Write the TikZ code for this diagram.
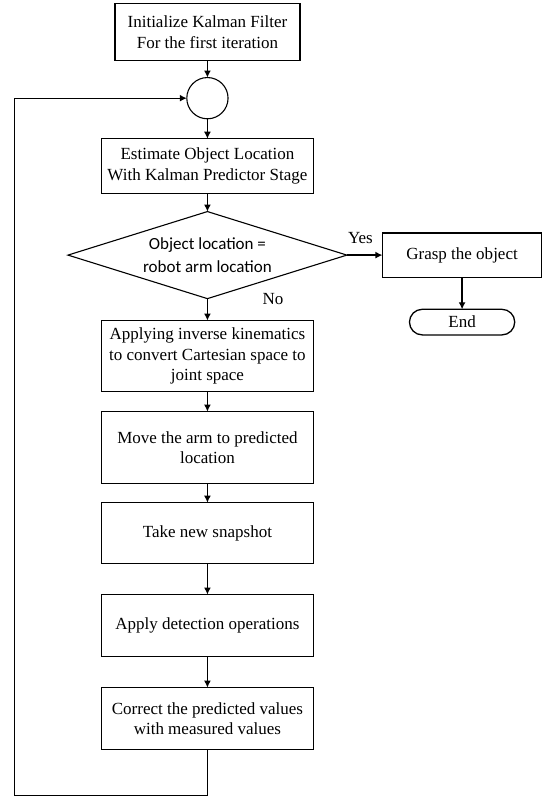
\documentclass[tikz,border=0pt]{standalone}
\usepackage{fontspec}
\setmainfont{Liberation Serif}
\newfontfamily\decfont{Carlito}
\usepackage{xcolor}
\usetikzlibrary{arrows.meta,positioning,shapes.geometric}

\begin{document}
\begin{tikzpicture}[
          font=\fontsize{17}{20.5}\selectfont,
          line/.style={-{Latex[length=7pt,width=7pt]}, line width=1.3pt},
          stepbox/.style={draw, line width=1.3pt, minimum width=74.5mm, align=center, inner sep=1pt, outer sep=0pt},
          junction/.style={circle, draw, line width=1.1pt, minimum size=14.5mm, outer sep=0pt},
          decision/.style={diamond, draw, line width=1.1pt, aspect=3.2, minimum width=98mm, minimum height=30.6mm, inner sep=0pt, outer sep=0pt, align=center, font=\decfont\fontsize{17}{23}\selectfont},
          terminal/.style={draw, rounded corners=4.5mm, line width=1.3pt, minimum width=37mm, minimum height=9mm, outer sep=0pt},
          tag/.style={inner sep=1pt}
        ]
          \useasboundingbox (-72.9mm,11.25mm) rectangle (118.3mm,-269.2mm);

          \node[stepbox, minimum width=65mm, minimum height=20mm] (init) at (0,0) {Initialize Kalman Filter\\For the first iteration};
          \node[junction, below=6mm of init] (junc) {};
          \draw[line] (init) -- (junc);

          \node[stepbox, minimum height=19.3mm] (est) [below=7mm of junc] {Estimate Object Location\\With Kalman Predictor Stage};
          \draw[line] (junc) -- (est);

          \node[decision, below=6.3mm of est] (dec) {Object location =\\robot arm location};
          \draw[line] (est) -- (dec);

          % yes branch
          \node[stepbox, minimum width=56mm, minimum height=15.5mm, right=12.5mm of dec] (grasp) {Grasp the object};
          \node[terminal, below=11.3mm of grasp] (stop) {End};
          \draw[line] (dec) -- (grasp);
          \draw[line] (grasp) -- (stop);
          \node[tag, above right=3.5mm and 0mm of dec.east] (yes) {Yes};

          % no branch
          \node[stepbox, minimum height=25mm, below=7.7mm of dec] (kin) {Applying inverse kinematics\\to convert Cartesian space to\\joint space};
          \draw[line] (dec) -- (kin);
          \node[tag, right=19mm of dec.south] (no) {No};

          \node[stepbox, minimum height=25.3mm, below=7mm of kin] (move) {Move the arm to predicted\\location};
          \node[stepbox, minimum height=21.4mm, below=6.7mm of move] (snap) {Take new snapshot};
          \node[stepbox, minimum height=21.8mm, below=10.9mm of snap] (detect) {Apply detection operations};
          \node[stepbox, minimum height=21.8mm, below=10.9mm of detect] (corr) {Correct the predicted values\\with measured values};
          \draw[line] (kin) -- (move);
          \draw[line] (move) -- (snap);
          \draw[line] (snap) -- (detect);
          \draw[line] (detect) -- (corr);

          % feedback to the junction
          \coordinate[left=60.6mm of junc] (back);
          \draw[line] (corr.south) -- ++(0,-16mm) -| (back) -- (junc);
        \end{tikzpicture}
\end{document}
